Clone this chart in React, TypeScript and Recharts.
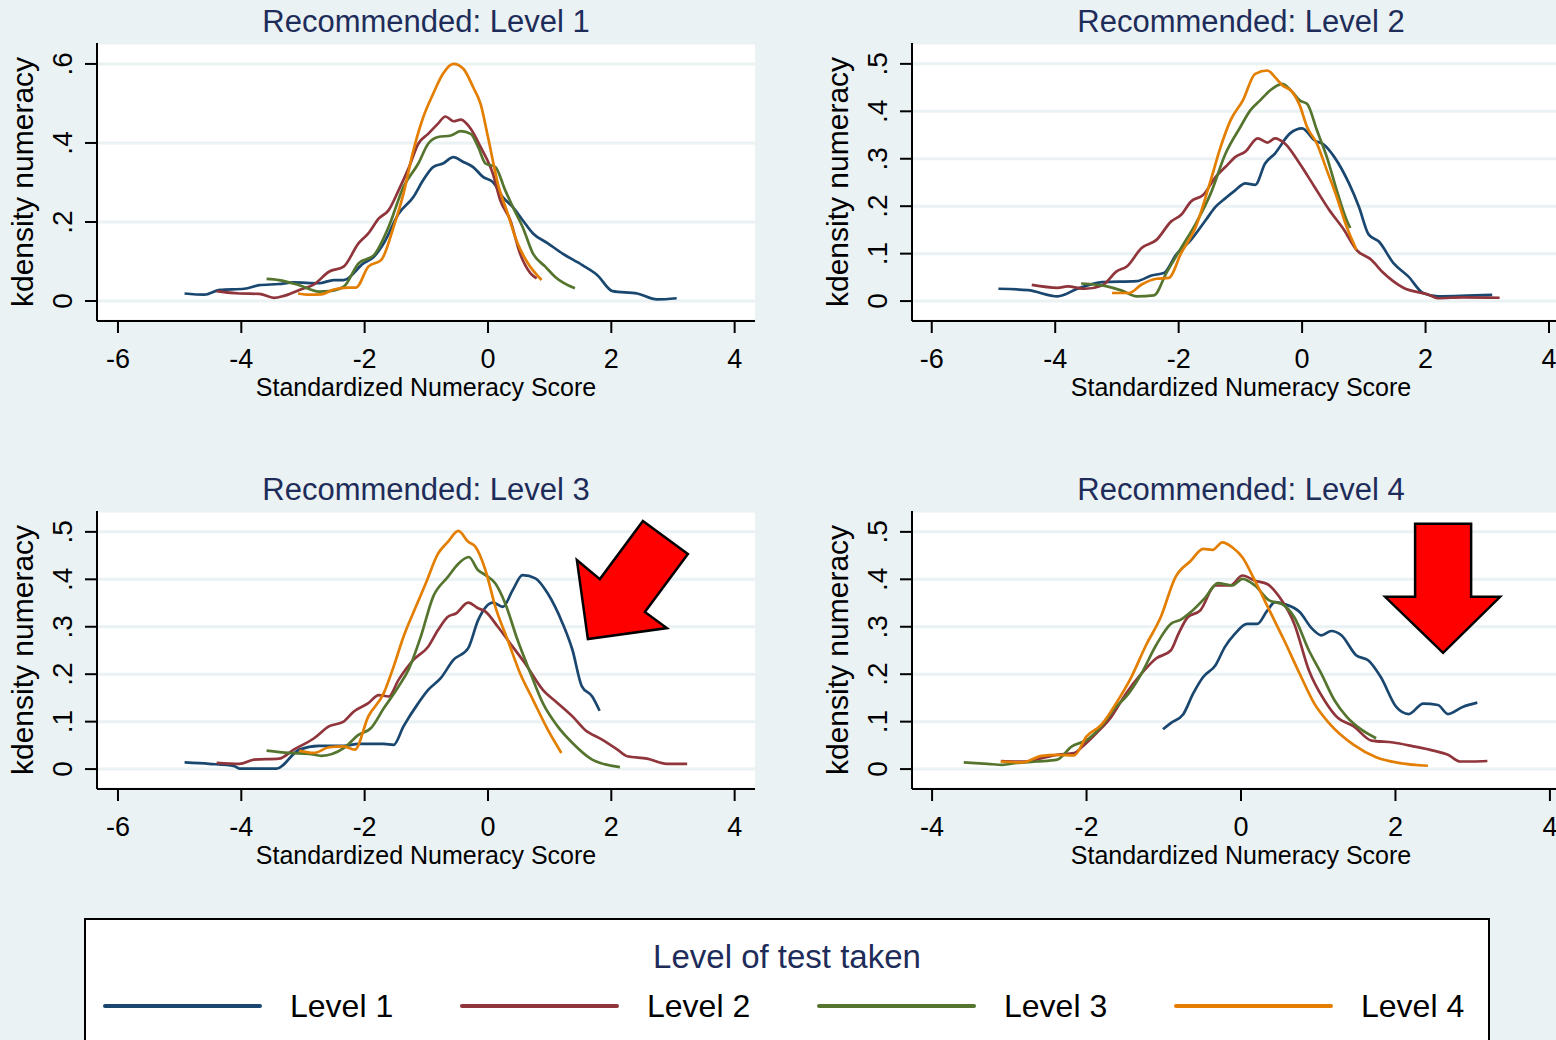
import React from 'react';
import { LineChart, Line, XAxis, YAxis, CartesianGrid, ReferenceDot, Label } from 'recharts';

// ---- Kernel density estimates of standardized numeracy, by recommended level ----
// Each array holds [score, density] pairs.

// Recommended: Level 1
const rec1Level1 = [[-4.92,0.019],[-4.6,0.016],[-4.35,0.028],[-3.95,0.031],[-3.71,0.04],[-3.39,0.043],[-3.15,0.047],[-2.74,0.045],[-2.5,0.053],[-2.34,0.053],[-2.02,0.095],[-1.85,0.112],[-1.69,0.146],[-1.45,0.221],[-1.21,0.263],[-1.05,0.306],[-0.89,0.339],[-0.73,0.348],[-0.56,0.364],[-0.4,0.352],[-0.24,0.339],[-0.08,0.314],[0.08,0.301],[0.24,0.263],[0.4,0.238],[0.56,0.205],[0.73,0.171],[0.97,0.146],[1.21,0.12],[1.53,0.091],[1.77,0.066],[2.02,0.025],[2.42,0.019],[2.74,0.004],[3.06,0.007]];
const rec1Level2 = [[-4.4,0.025],[-4.03,0.019],[-3.71,0.018],[-3.47,0.008],[-3.31,0.013],[-3.06,0.028],[-2.82,0.042],[-2.58,0.074],[-2.34,0.087],[-2.1,0.146],[-1.94,0.171],[-1.77,0.209],[-1.61,0.23],[-1.45,0.28],[-1.29,0.335],[-1.13,0.398],[-0.97,0.423],[-0.81,0.449],[-0.69,0.467],[-0.56,0.455],[-0.44,0.459],[-0.28,0.436],[-0.12,0.39],[0.08,0.322],[0.2,0.255],[0.36,0.205],[0.52,0.12],[0.69,0.07],[0.79,0.057]];
const rec1Level3 = [[-3.59,0.056],[-3.39,0.053],[-3.06,0.04],[-2.74,0.024],[-2.58,0.025],[-2.34,0.036],[-2.1,0.095],[-1.85,0.116],[-1.61,0.188],[-1.37,0.289],[-1.13,0.348],[-0.97,0.398],[-0.81,0.415],[-0.6,0.419],[-0.44,0.43],[-0.28,0.423],[-0.16,0.39],[-0.04,0.348],[0.12,0.339],[0.28,0.28],[0.44,0.226],[0.56,0.188],[0.73,0.12],[0.93,0.087],[1.09,0.061],[1.41,0.032]];
const rec1Level4 = [[-3.08,0.019],[-2.9,0.016],[-2.7,0.017],[-2.5,0.029],[-2.26,0.034],[-2.14,0.034],[-1.94,0.087],[-1.73,0.104],[-1.53,0.188],[-1.37,0.272],[-1.21,0.381],[-1.05,0.465],[-0.89,0.524],[-0.73,0.575],[-0.56,0.6],[-0.4,0.588],[-0.24,0.541],[-0.12,0.499],[0,0.415],[0.16,0.297],[0.32,0.221],[0.48,0.146],[0.65,0.095],[0.87,0.053]];

// Recommended: Level 2
const rec2Level1 = [[-4.92,0.026],[-4.44,0.023],[-3.96,0.01],[-3.64,0.026],[-3.24,0.04],[-2.68,0.042],[-2.44,0.054],[-2.24,0.059],[-2.04,0.098],[-1.8,0.129],[-1.56,0.171],[-1.4,0.199],[-1.24,0.217],[-1.08,0.234],[-0.92,0.248],[-0.76,0.245],[-0.6,0.29],[-0.44,0.311],[-0.2,0.353],[0,0.364],[0.2,0.339],[0.36,0.329],[0.52,0.304],[0.76,0.248],[0.92,0.199],[1.08,0.14],[1.24,0.126],[1.48,0.08],[1.72,0.052],[1.96,0.017],[2.2,0.01],[3.08,0.013]];
const rec2Level2 = [[-4.38,0.034],[-3.96,0.028],[-3.8,0.031],[-3.52,0.026],[-3.24,0.033],[-3,0.063],[-2.84,0.073],[-2.6,0.112],[-2.36,0.129],[-2.12,0.168],[-1.96,0.182],[-1.8,0.21],[-1.6,0.224],[-1.4,0.262],[-1.24,0.283],[-1.08,0.304],[-0.92,0.315],[-0.72,0.343],[-0.56,0.334],[-0.44,0.343],[-0.28,0.332],[-0.04,0.29],[0.2,0.241],[0.44,0.192],[0.68,0.15],[0.88,0.108],[1.12,0.087],[1.32,0.059],[1.64,0.028],[2.04,0.014],[2.2,0.006],[2.6,0.008],[3.2,0.007]];
const rec2Level3 = [[-3.58,0.037],[-3.16,0.031],[-2.92,0.022],[-2.68,0.01],[-2.4,0.012],[-2.2,0.059],[-1.96,0.112],[-1.72,0.164],[-1.48,0.227],[-1.24,0.311],[-1,0.367],[-0.84,0.402],[-0.68,0.423],[-0.52,0.444],[-0.32,0.458],[-0.16,0.441],[-0.04,0.423],[0.08,0.416],[0.24,0.36],[0.4,0.304],[0.56,0.234],[0.72,0.171],[0.78,0.154]];
const rec2Level4 = [[-3.08,0.017],[-2.8,0.017],[-2.6,0.035],[-2.36,0.047],[-2.16,0.049],[-1.96,0.101],[-1.72,0.157],[-1.48,0.255],[-1.32,0.325],[-1.16,0.381],[-0.96,0.423],[-0.76,0.479],[-0.56,0.486],[-0.44,0.472],[-0.32,0.455],[-0.16,0.441],[-0.04,0.413],[0.08,0.367],[0.24,0.332],[0.4,0.276],[0.56,0.22],[0.72,0.157],[0.88,0.108]];

// Recommended: Level 3
const rec3Level1 = [[-4.92,0.014],[-4.52,0.011],[-4.11,0.006],[-4.03,0.001],[-3.43,0.001],[-3.06,0.041],[-2.74,0.049],[-2.34,0.049],[-2.1,0.053],[-1.69,0.053],[-1.53,0.051],[-1.37,0.09],[-1.13,0.139],[-0.97,0.167],[-0.77,0.191],[-0.56,0.23],[-0.32,0.255],[-0.16,0.314],[0.08,0.351],[0.24,0.342],[0.4,0.377],[0.56,0.409],[0.77,0.402],[0.97,0.37],[1.21,0.307],[1.37,0.251],[1.52,0.175],[1.69,0.153],[1.81,0.123]];
const rec3Level2 = [[-4.4,0.013],[-4.03,0.011],[-3.79,0.02],[-3.39,0.022],[-3.15,0.041],[-2.82,0.065],[-2.58,0.09],[-2.34,0.1],[-2.18,0.121],[-1.94,0.139],[-1.77,0.156],[-1.61,0.153],[-1.45,0.188],[-1.21,0.23],[-0.97,0.258],[-0.81,0.293],[-0.65,0.321],[-0.52,0.328],[-0.32,0.351],[-0.16,0.339],[-0.04,0.332],[0.16,0.3],[0.4,0.258],[0.6,0.223],[0.89,0.167],[1.13,0.139],[1.37,0.111],[1.57,0.083],[1.85,0.062],[2.1,0.041],[2.26,0.027],[2.58,0.022],[2.9,0.011],[3.23,0.011]];
const rec3Level3 = [[-3.59,0.039],[-3.23,0.034],[-2.9,0.032],[-2.7,0.028],[-2.34,0.044],[-2.1,0.072],[-1.9,0.086],[-1.69,0.128],[-1.45,0.174],[-1.29,0.209],[-1.09,0.279],[-0.89,0.363],[-0.65,0.405],[-0.48,0.433],[-0.31,0.447],[-0.16,0.419],[-0.04,0.409],[0.12,0.391],[0.28,0.349],[0.48,0.272],[0.69,0.202],[0.89,0.139],[1.13,0.09],[1.37,0.055],[1.69,0.02],[2.14,0.004]];
const rec3Level4 = [[-3.06,0.039],[-2.82,0.034],[-2.58,0.046],[-2.34,0.048],[-2.16,0.041],[-1.94,0.111],[-1.69,0.16],[-1.53,0.216],[-1.37,0.279],[-1.17,0.342],[-1.01,0.391],[-0.81,0.454],[-0.65,0.479],[-0.48,0.502],[-0.32,0.479],[-0.2,0.468],[-0.04,0.419],[0.12,0.342],[0.32,0.272],[0.52,0.202],[0.73,0.146],[0.97,0.083],[1.19,0.034]];

// Recommended: Level 4
const rec4Level1 = [[-1.01,0.084],[-0.91,0.097],[-0.75,0.115],[-0.62,0.159],[-0.49,0.194],[-0.33,0.219],[-0.21,0.257],[-0.08,0.285],[0.08,0.306],[0.21,0.306],[0.34,0.334],[0.44,0.352],[0.56,0.348],[0.76,0.331],[0.92,0.296],[1.04,0.282],[1.17,0.291],[1.3,0.282],[1.49,0.24],[1.65,0.229],[1.81,0.194],[2.01,0.131],[2.17,0.116],[2.36,0.138],[2.55,0.135],[2.68,0.116],[2.87,0.131],[3.06,0.14]];
const rec4Level2 = [[-3.11,0.017],[-2.9,0.016],[-2.77,0.016],[-2.58,0.023],[-2.38,0.03],[-2.16,0.034],[-2.03,0.051],[-1.87,0.076],[-1.68,0.11],[-1.49,0.159],[-1.29,0.201],[-1.1,0.233],[-0.91,0.25],[-0.81,0.285],[-0.69,0.32],[-0.53,0.334],[-0.33,0.387],[-0.14,0.387],[0.02,0.408],[0.18,0.397],[0.34,0.39],[0.5,0.362],[0.69,0.306],[0.88,0.208],[1.08,0.145],[1.24,0.11],[1.46,0.09],[1.69,0.06],[1.97,0.056],[2.23,0.048],[2.49,0.039],[2.68,0.03],[2.84,0.016],[3,0.016],[3.19,0.017]];
const rec4Level3 = [[-3.59,0.014],[-3.28,0.011],[-3.09,0.009],[-2.9,0.013],[-2.64,0.016],[-2.38,0.02],[-2.19,0.048],[-1.99,0.062],[-1.81,0.09],[-1.62,0.131],[-1.49,0.152],[-1.29,0.201],[-1.1,0.261],[-0.91,0.306],[-0.78,0.315],[-0.65,0.331],[-0.46,0.362],[-0.3,0.392],[-0.11,0.387],[0.02,0.401],[0.18,0.387],[0.37,0.355],[0.53,0.348],[0.69,0.32],[0.88,0.25],[1.04,0.201],[1.21,0.145],[1.37,0.11],[1.56,0.083],[1.75,0.065]];
const rec4Level4 = [[-3.11,0.016],[-2.83,0.014],[-2.58,0.028],[-2.38,0.03],[-2.16,0.029],[-2,0.069],[-1.81,0.093],[-1.62,0.138],[-1.42,0.194],[-1.23,0.261],[-1.04,0.32],[-0.85,0.404],[-0.65,0.439],[-0.49,0.464],[-0.37,0.462],[-0.24,0.478],[-0.11,0.467],[0.02,0.446],[0.18,0.397],[0.37,0.334],[0.56,0.271],[0.76,0.201],[0.95,0.138],[1.14,0.097],[1.46,0.051],[1.75,0.025],[2.04,0.013],[2.42,0.007]];

const LEVEL_NAMES = ['Level 1', 'Level 2', 'Level 3', 'Level 4'];
const LEVEL_COLORS = ['#1A476F', '#90353B', '#55752F', '#E37E00'];
const PANEL_TITLES = ['Recommended: Level 1', 'Recommended: Level 2', 'Recommended: Level 3', 'Recommended: Level 4'];
const LEGEND_TITLE = 'Level of test taken';
const X_TITLE = 'Standardized Numeracy Score';
const Y_TITLE = 'kdensity numeracy';
const X_TICKS_WIDE = [-6, -4, -2, 0, 2, 4];
const X_TICKS_NARROW = [-4, -2, 0, 2, 4];
const Y_TICKS_COARSE = [0, 0.2, 0.4, 0.6];
const Y_TICKS_FINE = [0, 0.1, 0.2, 0.3, 0.4, 0.5];

// ---- styling ----
const FONT = '"Liberation Sans", Arial, Helvetica, sans-serif';
const BG = '#EAF2F3';
const NAVY = '#1E2C5A';
const Y_AXIS_W = 70;
const X_AXIS_H = 80;

const toPts = (arr: number[][]) => arr.map(([x, y]) => ({ x, y }));
const fmtY = (v: number) => (v === 0 ? '0' : String(Number(v.toFixed(2))).replace(/^0/, ''));

const XTick = (props: any) => {
  const { x, y, payload } = props;
  return (
    <text x={x} y={y + 19} textAnchor="middle" fontSize={27} fontFamily={FONT} fill="#000">
      {String(payload.value)}
    </text>
  );
};

const YTick = (props: any) => {
  const { x, y, payload } = props;
  return (
    <text transform={`translate(${x},${y}) rotate(-90)`} textAnchor="middle" fontSize={28} fontFamily={FONT} fill="#000">
      {fmtY(payload.value)}
    </text>
  );
};

// Block arrows used as annotations, drawn relative to their tip (cx, cy)
const DIAGONAL_ARROW = [[0, 0], [-11, -79], [12, -60], [55, -118], [100, -85], [57, -27], [79, -11]];
const DOWN_ARROW = [[0, 0], [-58, -56], [-28, -56], [-28, -129], [28, -129], [28, -56], [57, -56]];

const ArrowShape = (outline: number[][]) => (props: any) => {
  const { cx, cy } = props;
  const pts = outline.map(([dx, dy]) => `${cx + dx},${cy + dy}`).join(' ');
  return <polygon points={pts} fill="#FF0000" stroke="#000" strokeWidth={2.5} strokeLinejoin="miter" />;
};

type PanelProps = {
  title: string;
  series: number[][][];
  left: number;
  top: number;
  width: number;
  height: number;
  margin: { top: number; right: number; bottom: number; left: number };
  xDomain: [number, number];
  yDomain: [number, number];
  xTicks: number[];
  yTicks: number[];
  arrow?: { x: number; y: number; outline: number[][] };
};

const Panel = (p: PanelProps) => {
  const plotLeft = p.margin.left + Y_AXIS_W;
  const plotWidth = p.width - plotLeft - p.margin.right;
  return (
    <div style={{ position: 'absolute', left: p.left, top: p.top, width: p.width, height: p.height }}>
      <div
        style={{
          position: 'absolute',
          left: plotLeft,
          width: plotWidth,
          top: 6,
          textAlign: 'center',
          fontSize: 31,
          lineHeight: '31px',
          fontFamily: FONT,
          color: NAVY,
          whiteSpace: 'nowrap',
        }}
      >
        {p.title}
      </div>
      <LineChart width={p.width} height={p.height} margin={p.margin}>
        <CartesianGrid vertical={false} horizontal stroke={BG} strokeWidth={3} fill="#FFFFFF" />
        <XAxis
          dataKey="x"
          type="number"
          domain={p.xDomain}
          allowDataOverflow
          ticks={p.xTicks}
          interval={0}
          height={X_AXIS_H}
          tickSize={12}
          tickMargin={16}
          tick={<XTick />}
          axisLine={{ stroke: '#000', strokeWidth: 2 }}
          tickLine={{ stroke: '#000', strokeWidth: 2 }}
        >
          <Label
            content={(lp: any) => {
              const vb = lp.viewBox || {};
              return (
                <text x={vb.x + vb.width / 2} y={vb.y + 75} textAnchor="middle" fontSize={25} fontFamily={FONT} fill="#000">
                  {X_TITLE}
                </text>
              );
            }}
          />
        </XAxis>
        <YAxis
          dataKey="y"
          type="number"
          domain={p.yDomain}
          allowDataOverflow
          ticks={p.yTicks}
          interval={0}
          width={Y_AXIS_W}
          tickSize={12}
          tickMargin={13}
          tick={<YTick />}
          axisLine={{ stroke: '#000', strokeWidth: 2 }}
          tickLine={{ stroke: '#000', strokeWidth: 2 }}
        >
          <Label
            content={(lp: any) => {
              const vb = lp.viewBox || {};
              const bx = vb.x + vb.width - 64;
              const by = vb.y + vb.height / 2;
              return (
                <text transform={`translate(${bx},${by}) rotate(-90)`} textAnchor="middle" fontSize={30} fontFamily={FONT} fill="#000">
                  {Y_TITLE}
                </text>
              );
            }}
          />
        </YAxis>
        {p.series.map((s, i) => (
          <Line
            key={LEVEL_NAMES[i]}
            name={LEVEL_NAMES[i]}
            data={toPts(s)}
            dataKey="y"
            type="monotone"
            stroke={LEVEL_COLORS[i]}
            strokeWidth={2.7}
            dot={false}
            activeDot={false}
            isAnimationActive={false}
          />
        ))}
        {p.arrow && (
          <ReferenceDot x={p.arrow.x} y={p.arrow.y} r={1} shape={ArrowShape(p.arrow.outline)} ifOverflow="visible" />
        )}
      </LineChart>
    </div>
  );
};

const LEFT_MARGIN = { top: 43, right: 25, bottom: 420 - 321 - X_AXIS_H, left: 97 - Y_AXIS_W };
const RIGHT_MARGIN = { top: 43, right: 10, bottom: 420 - 321 - X_AXIS_H, left: 132 - Y_AXIS_W };

const Legend = () => (
  <div
    style={{
      position: 'absolute',
      left: 84,
      top: 918,
      width: 1402,
      height: 140,
      background: '#FFFFFF',
      border: '2px solid #000',
      fontFamily: FONT,
    }}
  >
    <div style={{ position: 'absolute', left: 0, width: '100%', top: 20, textAlign: 'center', fontSize: 33, lineHeight: '33px', color: NAVY }}>
      {LEGEND_TITLE}
    </div>
    {LEVEL_NAMES.map((name, i) => {
      const lineLeft = 17 + i * 357;
      return (
        <React.Fragment key={name}>
          <div style={{ position: 'absolute', left: lineLeft, top: 84, width: 159, height: 4, borderRadius: 2, background: LEVEL_COLORS[i] }} />
          <div style={{ position: 'absolute', left: lineLeft + 187, top: 70, fontSize: 32, lineHeight: '32px', color: '#000', whiteSpace: 'nowrap' }}>
            {name}
          </div>
        </React.Fragment>
      );
    })}
  </div>
);

export default function App() {
  return (
    <div style={{ position: 'absolute', left: 0, top: 0, width: 1556, height: 1040, background: BG, overflow: 'hidden' }}>
      <Panel
        title={PANEL_TITLES[0]}
        series={[rec1Level1, rec1Level2, rec1Level3, rec1Level4]}
        left={0}
        top={0}
        width={780}
        height={420}
        margin={LEFT_MARGIN}
        xDomain={[-6.34, 4.33]}
        yDomain={[-0.0506, 0.653]}
        xTicks={X_TICKS_WIDE}
        yTicks={Y_TICKS_COARSE}
      />
      <Panel
        title={PANEL_TITLES[1]}
        series={[rec2Level1, rec2Level2, rec2Level3, rec2Level4]}
        left={780}
        top={0}
        width={800}
        height={420}
        margin={RIGHT_MARGIN}
        xDomain={[-6.32, 4.34]}
        yDomain={[-0.042, 0.544]}
        xTicks={X_TICKS_WIDE}
        yTicks={Y_TICKS_FINE}
      />
      <Panel
        title={PANEL_TITLES[2]}
        series={[rec3Level1, rec3Level2, rec3Level3, rec3Level4]}
        left={0}
        top={468}
        width={780}
        height={420}
        margin={LEFT_MARGIN}
        xDomain={[-6.34, 4.33]}
        yDomain={[-0.042, 0.544]}
        xTicks={X_TICKS_WIDE}
        yTicks={Y_TICKS_FINE}
        arrow={{ x: 1.62, y: 0.274, outline: DIAGONAL_ARROW }}
      />
      <Panel
        title={PANEL_TITLES[3]}
        series={[rec4Level1, rec4Level2, rec4Level3, rec4Level4]}
        left={780}
        top={468}
        width={800}
        height={420}
        margin={RIGHT_MARGIN}
        xDomain={[-4.26, 4.26]}
        yDomain={[-0.042, 0.544]}
        xTicks={X_TICKS_NARROW}
        yTicks={Y_TICKS_FINE}
        arrow={{ x: 2.617, y: 0.245, outline: DOWN_ARROW }}
      />
      <Legend />
    </div>
  );
}
